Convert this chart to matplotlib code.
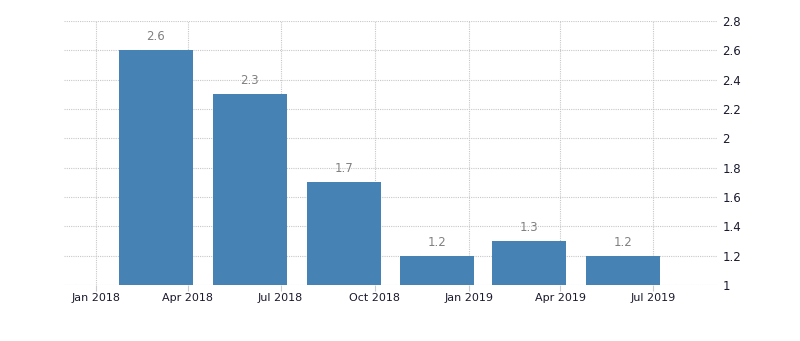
import matplotlib
matplotlib.use("Agg")
import matplotlib.pyplot as plt
import matplotlib.dates as mdates
import datetime as dt

# Quarterly values (bars centred on the last month of each quarter)
periods = ["2018-03-01", "2018-06-01", "2018-09-01", "2018-12-01", "2019-03-01", "2019-06-01"]
values = [2.6, 2.3, 1.7, 1.2, 1.3, 1.2]
tick_dates = ["2018-01-01", "2018-04-01", "2018-07-01", "2018-10-01", "2019-01-01", "2019-04-01", "2019-07-01"]
tick_labels = ["Jan 2018", "Apr 2018", "Jul 2018", "Oct 2018", "Jan 2019", "Apr 2019", "Jul 2019"]
y_ticks = [1, 1.2, 1.4, 1.6, 1.8, 2, 2.2, 2.4, 2.6, 2.8]
y_tick_labels = ["1", "1.2", "1.4", "1.6", "1.8", "2", "2.2", "2.4", "2.6", "2.8"]

to_date = lambda s: dt.datetime.strptime(s, "%Y-%m-%d")
x = mdates.date2num([to_date(p) for p in periods])
xt = mdates.date2num([to_date(t) for t in tick_dates])

fig = plt.figure(figsize=(8.0, 3.41), dpi=100)
ax = fig.add_axes([0.08, 0.1642, 0.816, 0.7742])

ax.bar(x, [v - 1 for v in values], bottom=1, width=72, color="#4682b4", zorder=3)
for xi, v in zip(x, values):
    ax.annotate(f"{v:g}", (xi, v), xytext=(0, 5), textcoords="offset points",
                ha="center", va="bottom", fontsize=8.5, color="#808080")

ax.set_xlim(mdates.date2num(to_date("2017-12-01")), mdates.date2num(to_date("2019-09-01")))
ax.set_ylim(1, 2.8)
ax.set_xticks(xt)
ax.set_xticklabels(tick_labels)
ax.set_yticks(y_ticks)
ax.set_yticklabels(y_tick_labels)
ax.yaxis.tick_right()

for s in ax.spines.values():
    s.set_visible(False)
ax.grid(True, color="#c8c8c8", linestyle=(0, (1, 1)), linewidth=0.8, zorder=0)
ax.tick_params(axis="x", length=4, color="#cccccc", labelsize=8, labelcolor="#1a1a2e", pad=2)
ax.tick_params(axis="y", length=0, labelsize=8.5, labelcolor="#1a1a2e", pad=4)
ax.set_axisbelow(True)

fig.savefig("out.png", dpi=100)
